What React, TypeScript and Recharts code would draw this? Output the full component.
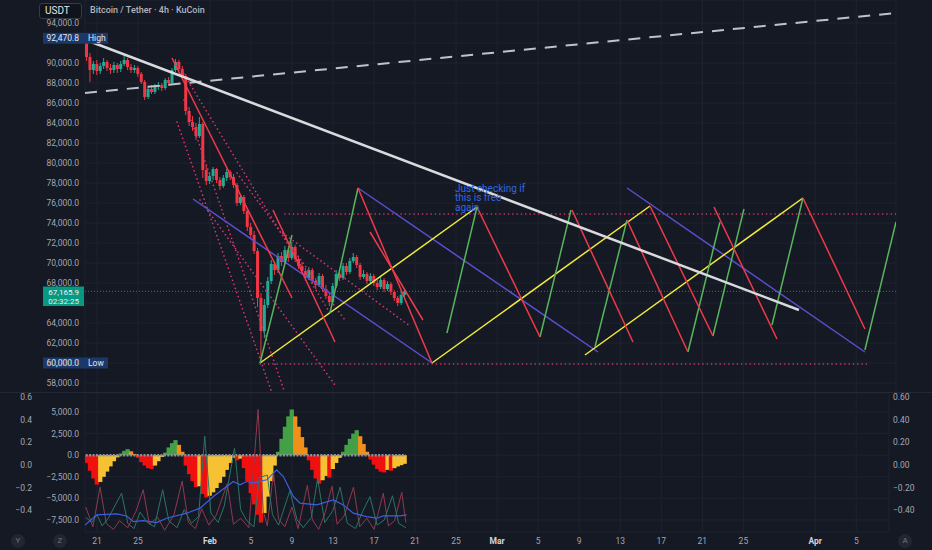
import React from 'react';
import {
  ComposedChart,
  Bar,
  Line,
  XAxis,
  YAxis,
  CartesianGrid,
  ReferenceLine,
  ReferenceDot,
} from 'recharts';

const FONT = 'Roboto, "Noto Sans", "DejaVu Sans", sans-serif';
const BG = '#151924';
const GRID = '#1e2330';
const AXIS_TEXT = '#a3a7b0';
const UP = '#22ab94';
const DOWN = '#f23645';

// ---------- axes ----------
const dateTicks = [21, 25, 32, 36, 40, 44, 48, 52, 56, 60, 64, 68, 72, 76, 80, 84, 91, 95];
const dateLabels = ['21', '25', 'Feb', '5', '9', '13', '17', '21', '25', 'Mar', '5', '9', '13', '17', '21', '25', 'Apr', '5'];
const priceTicks = [58000, 60000, 62000, 64000, 66000, 68000, 70000, 72000, 74000, 76000, 78000, 80000, 82000, 84000, 86000, 88000, 90000, 92000, 94000];
const coveredPriceTicks = [92000, 66000];
const oscTicks = [-0.4, -0.2, 0, 0.2, 0.4, 0.6];
const histTicks = [-7500, -5000, -2500, 0, 2500, 5000];

const HIGH_PRICE = 92470.8;
const LOW_PRICE = 60000.0;
const LAST_PRICE = 67165.9;
const COUNTDOWN = '02:32:25';

// ---------- candles (8h steps, day-of-year) ----------
const CANDLE_START = 20;
const CANDLE_STEP = 1 / 3;
const opens = [92300, 90600, 89300, 89900, 89200, 89700, 90100, 89500, 89300, 89800,
  89400, 89900, 90300, 89600, 89300, 89500, 88900, 88100, 86600, 87400,
  87100, 87600, 87800, 87500, 88300, 88000, 89300, 90100, 89400, 88700,
  85200, 84100, 83600, 82700, 83900, 79300, 78200, 78700, 79400, 78300,
  77700, 78500, 79100, 78600, 77800, 76000, 76600, 75200, 73600, 72800,
  71200, 66500, 63200, 65800, 68200, 69900, 69300, 70700, 70100, 71300,
  70500, 71600, 70400, 69700, 69200, 68500, 69300, 68200, 67800, 68700,
  67400, 66700, 66100, 67700, 68900, 68500, 69700, 69100, 70200, 70600,
  69800, 68600, 68900, 68200, 68700, 68000, 67600, 68300, 67400, 67900,
  67100, 66500, 66000, 66800];
const highs = [92470, 91000, 90200, 90300, 90000, 90500, 90300, 89900, 90100, 90000,
  90200, 90800, 90500, 89900, 89800, 89700, 89100, 88300, 87700, 87800,
  87900, 88100, 88000, 88500, 88600, 89500, 90400, 90300, 89700, 88900,
  85600, 84700, 84000, 84600, 84100, 79800, 79100, 79600, 79500, 78600,
  78800, 79400, 79300, 78900, 78000, 76900, 76800, 75500, 74000, 73200,
  71500, 67000, 66400, 68600, 70300, 70200, 71000, 71100, 71700, 71500,
  72100, 71800, 70700, 70100, 69500, 69600, 69500, 68500, 69000, 68900,
  67800, 67000, 68000, 69300, 69200, 70000, 70000, 70500, 71000, 70800,
  70000, 69300, 69100, 69000, 68900, 68300, 68600, 68500, 68200, 68100,
  67300, 66700, 67100, 67400];
const lows = [90200, 88100, 88900, 88800, 88900, 89400, 89200, 88900, 89000, 89000,
  89100, 89700, 89300, 89000, 89000, 88600, 87900, 86300, 86400, 86900,
  86900, 87300, 87200, 87300, 87700, 87900, 89100, 89200, 88400, 84800,
  83700, 83200, 82300, 82500, 78500, 77800, 77900, 78300, 78000, 77300,
  77500, 78200, 78300, 77500, 75700, 75800, 74900, 73200, 72400, 70900,
  65600, 60074, 62500, 65500, 67900, 68800, 69000, 69700, 69900, 70100,
  70300, 70100, 69400, 68900, 68200, 68300, 67900, 67400, 67600, 67100,
  66400, 65700, 65900, 67500, 68200, 68300, 68800, 68900, 70000, 69500,
  68300, 68400, 67900, 68000, 67700, 67300, 67400, 67100, 67200, 66800,
  66200, 65700, 65800, 66600];
const closes = [90600, 89300, 89900, 89200, 89700, 90100, 89500, 89300, 89800, 89400,
  89900, 90300, 89600, 89300, 89500, 88900, 88100, 86600, 87400, 87100,
  87600, 87800, 87500, 88300, 88000, 89300, 90100, 89400, 88700, 85200,
  84100, 83600, 82700, 83900, 79300, 78200, 78700, 79400, 78300, 77700,
  78500, 79100, 78600, 77800, 76000, 76600, 75200, 73600, 72800, 71200,
  66500, 63200, 65800, 68200, 69900, 69300, 70700, 70100, 71300, 70500,
  71600, 70400, 69700, 69200, 68500, 69300, 68200, 67800, 68700, 67400,
  66700, 66100, 67700, 68900, 68500, 69700, 69100, 70200, 70600, 69800,
  68600, 68900, 68200, 68700, 68000, 67600, 68300, 67400, 67900, 67100,
  66500, 66000, 66800, 67166];

// ---------- lower pane ----------
const histValues = [-900, -1800, -2700, -3400, -3100, -2500, -1900, -1300, -700, -250,
  200, 500, 700, 450, 150, -300, -800, -1200, -1500, -1600,
  -1200, -700, -200, 300, 900, 1400, 1750, 1200, 400, -1200,
  -2200, -3000, -3700, -3600, -4500, -4900, -4700, -4300, -3800, -3200,
  -2500, -1700, -900, -300, -600, -400, -1500, -3000, -4400, -5700,
  -6900, -7800, -6700, -4800, -3000, -1200, 400, 1900, 3300, 4500,
  5300, 4500, 3300, 2100, 900, -600, -1700, -2700, -3300, -2900,
  -2400, -2600, -1600, -900, -300, 400, 1200, 1900, 2500, 2900,
  2200, 1300, 400, -500, -1100, -1600, -1900, -2000, -1700, -1800,
  -1500, -1300, -1150, -1000];

const bluePoints = [[19.83, -8080], [20.97, -6920], [22.92, -6800], [23.89, -7040], [24.54, -7700], [25.51, -7580],
  [26.81, -7810], [27.79, -7310], [29.74, -6720], [31.04, -6140], [32.34, -4790], [33.64, -3630], [34.29, -3050],
  [34.94, -3430], [35.59, -3050], [36.24, -3230], [37.54, -2850], [38.51, -1690], [39.16, -2470], [40.14, -4790],
  [40.79, -5560], [42.41, -5760], [44.03, -5180], [45.01, -5760], [45.98, -6720], [47.28, -7120], [48.26, -7300],
  [48.9, -7040], [50.53, -7040], [51.18, -6920]];

const oscRedPoints = [[19.9, -6000], [20.6, -8300], [21.3, -3700], [21.9, -7900], [22.6, -8600], [23.2, -7600],
  [24.0, -8400], [24.8, -6500], [25.5, -4000], [26.1, -8000], [26.9, -7200], [27.6, -8700], [28.5, -6900],
  [29.3, -3000], [29.9, -7800], [30.6, -8500], [31.2, -6200], [31.9, -8100], [32.6, -7000], [33.7, -3300],
  [34.3, -8000], [35.0, -7300], [35.8, -8400], [36.7, 5300], [37.2, -6500], [37.6, -8200], [38.2, -2000],
  [38.7, -7400], [39.3, -8300], [40.0, -6000], [40.6, -8500], [41.5, -3500], [42.0, -7500], [42.6, -8600],
  [43.2, -6800], [43.9, -3600], [44.4, -8000], [45.1, -7000], [46.0, -3700], [46.6, -8300], [47.3, -7300],
  [48.0, -8600], [48.9, -4400], [49.4, -8200], [50.0, -7600], [50.7, -4300], [51.1, -7800]];

const oscGreenPoints = [[19.9, -7200], [20.5, -7800], [21.0, -6900], [21.5, -8200], [22.1, -7300], [23.4, -4400],
  [24.0, -7900], [24.6, -8500], [25.2, -6600], [25.9, -7800], [26.6, -8300], [27.4, -4000], [28.0, -7600],
  [28.8, -8400], [29.5, -6300], [30.2, -7900], [30.9, -7100], [31.5, 2200], [32.1, -6700], [32.8, -7800],
  [33.4, -5900], [34.4, 800], [35.0, -6300], [35.6, -7600], [36.3, -8300], [36.8, -2600], [37.6, -2300],
  [38.1, -6900], [38.7, -8100], [39.8, -4100], [40.5, -7500], [41.1, -8400], [41.9, -7200], [42.5, -2700],
  [43.2, -7800], [44.0, -6400], [44.7, -3700], [45.4, -7900], [46.2, -8500], [46.9, -6500], [47.6, -4800],
  [48.3, -8100], [49.0, -7500], [49.8, -4700], [50.4, -7900], [51.1, -8400]];

// ---------- drawings: [day1, price1, day2, price2] ----------
const whiteTrend = [19.93, 92300, 89.42, 65300];
const dashedTrend = [19.83, 87000, 98.88, 95000];
const pinkLevels = [[39.32, 74900, 98.88, 74900], [36.89, 59900, 96.15, 59900]];
const yellowLegs = [[36.89, 60000, 58.04, 75600], [53.65, 60000, 74.9, 75700], [68.56, 60800, 89.81, 76500]];
const greenLegs = [[36.89, 60000, 40.01, 72800], [43.71, 65000, 46.44, 77500], [55.11, 63000, 58.04, 75600],
  [64.18, 62600, 67.2, 75300], [69.54, 61600, 72.66, 74300], [78.6, 61100, 81.72, 74100],
  [81.04, 62700, 84.06, 75400], [86.79, 63800, 89.81, 76500], [95.85, 61300, 98.88, 74100]];
const redLegs = [[28.31, 90500, 40.01, 66500], [38.15, 75300, 44.2, 62100], [46.44, 77500, 53.65, 60000],
  [47.61, 73100, 52.77, 64300], [58.04, 75600, 64.18, 62600], [67.3, 75300, 73.24, 62100],
  [72.66, 74300, 78.6, 61100], [74.9, 75700, 81.04, 62700], [81.14, 75600, 87.28, 62400],
  [89.81, 76500, 95.85, 63400]];
const purpleLegs = [[30.36, 76400, 53.65, 60000], [46.44, 77500, 69.83, 61100], [72.66, 77500, 95.85, 61100]];
const dottedLegs = [[28.8, 84100, 38.06, 57000], [29.48, 86300, 39.32, 57000], [31.04, 76300, 44.2, 57800],
  [34.65, 79000, 45.17, 64300], [28.8, 90000, 43.71, 65000], [39.1, 73000, 51.5, 63700]];

const NOTE_AT = [55.89, 78000];
const NOTE_LINES = ['Just checking if', 'this is free', 'again'];

// ---------- derived tables ----------
const candles = closes.map((c, i) => ({
  t: CANDLE_START + i * CANDLE_STEP,
  open: opens[i],
  high: highs[i],
  low: lows[i],
  close: c,
}));
const histData = histValues.map((v, i) => ({ t: CANDLE_START + i * CANDLE_STEP, hist: v }));
const toPts = (arr: number[][]) => arr.map(([t, v]) => ({ t, v }));
const blueData = toPts(bluePoints);
const oscRedData = toPts(oscRedPoints);
const oscGreenData = toPts(oscGreenPoints);

const H_GREEN = '#43a047';
const H_ORANGE = '#f0901c';
const H_RED = '#f01010';
const H_YELLOW = '#f6c233';
const histColors = histValues.map((v, i) => {
  const prev = i > 0 ? histValues[i - 1] : 0;
  const rising = v > prev;
  if (v >= 0) return rising ? H_GREEN : H_ORANGE;
  return rising ? H_YELLOW : H_RED;
});

const minus = (s: string) => s.replace('-', '\u2212');
const fmtPrice = (v: number) =>
  minus(v.toLocaleString('en-US', { minimumFractionDigits: 1, maximumFractionDigits: 1 }));

const tickStyle = { fill: AXIS_TEXT, fontSize: 8.5, fontFamily: FONT };

// ---------- shapes ----------
const Candle = (props: any) => {
  const { x, y, width, height, payload } = props;
  if (!payload || x == null) return null;
  const top = Math.min(y, y + height);
  const h = Math.abs(height);
  const span = payload.high - payload.low || 1;
  const yOf = (v: number) => top + ((payload.high - v) / span) * h;
  const up = payload.close >= payload.open;
  const color = up ? UP : DOWN;
  const cx = x + width / 2;
  const b1 = yOf(Math.max(payload.open, payload.close));
  const b2 = yOf(Math.min(payload.open, payload.close));
  return (
    <g>
      <line x1={cx} x2={cx} y1={top} y2={top + h} stroke={color} strokeWidth={1} />
      <rect x={cx - width / 2} y={b1} width={width} height={Math.max(1, b2 - b1)} fill={color} />
    </g>
  );
};

const HistBar = (props: any) => {
  const { x, y, width, height, index } = props;
  if (x == null || y == null) return null;
  const top = Math.min(y, y + height);
  const h = Math.abs(height);
  return <rect x={x - 0.6} y={top} width={width + 1.2} height={h} fill={histColors[index] || H_RED} />;
};

const PriceTick = (props: any) => {
  const { x, y, payload } = props;
  if (coveredPriceTicks.includes(payload.value)) return null;
  return (
    <text x={x} y={y} dy="0.35em" textAnchor="end" fontSize={8.5} fontFamily={FONT} fill={AXIS_TEXT}>
      {fmtPrice(payload.value)}
    </text>
  );
};

const AxisTag = (props: any) => {
  const { viewBox, text, tag } = props;
  if (!viewBox) return null;
  const x = viewBox.x;
  const y = viewBox.y;
  return (
    <g>
      <rect x={x - 42} y={y - 5.5} width={tag ? 65 : 41} height={11} fill="#1c3868" />
      <text x={x - 6} y={y} dy="0.35em" textAnchor="end" fontSize={8.5} fontFamily={FONT} fill="#e3e6ee">
        {text}
      </text>
      {tag ? (
        <text x={x + 3} y={y} dy="0.35em" fontSize={8.5} fontFamily={FONT} fill="#e3e6ee">
          {tag}
        </text>
      ) : null}
    </g>
  );
};

const CurrentTag = (props: any) => {
  const { viewBox, text, sub } = props;
  if (!viewBox) return null;
  const x = viewBox.x;
  const y = viewBox.y;
  return (
    <g>
      <rect x={x - 42} y={y - 4.8} width={41} height={19.5} fill="#089981" />
      <text x={x - 6} y={y + 0.8} dy="0.35em" textAnchor="end" fontSize={8} fontFamily={FONT} fill="#f0f3fa">
        {text}
      </text>
      <text x={x - 6} y={y + 10} dy="0.35em" textAnchor="end" fontSize={8} fontFamily={FONT} fill="#e0f2ee">
        {sub}
      </text>
    </g>
  );
};

const NoteText = (props: any) => {
  const { viewBox, lines } = props;
  if (!viewBox) return null;
  const x = viewBox.x + (viewBox.width || 0) / 2;
  const y = viewBox.y + (viewBox.height || 0) / 2;
  return (
    <text x={x} y={y} fontSize={10} fontFamily={FONT} fill="#3368e0">
      {lines.map((l: string, i: number) => (
        <tspan key={i} x={x} y={y + 8.5 + i * 9.5}>
          {l}
        </tspan>
      ))}
    </text>
  );
};

const DateTick = (props: any) => {
  const { x, y, payload } = props;
  const idx = dateTicks.indexOf(payload.value);
  const label = idx >= 0 ? dateLabels[idx] : '';
  const bold = /[A-Za-z]/.test(label);
  return (
    <text
      x={x}
      y={y}
      dy={12}
      textAnchor="middle"
      fontSize={8.5}
      fontFamily={FONT}
      fontWeight={bold ? 700 : 400}
      fill={bold ? '#d1d4dc' : AXIS_TEXT}
    >
      {label}
    </text>
  );
};

const seg = (s: number[], key: string, stroke: string, width: number, dash?: string, cap?: string) => (
  <ReferenceLine
    key={key}
    segment={[{ x: s[0], y: s[1] }, { x: s[2], y: s[3] }]}
    stroke={stroke}
    strokeWidth={width}
    strokeDasharray={dash}
    strokeLinecap={cap as any}
    ifOverflow="hidden"
  />
);

const RoundIcon = ({ left, letter }: { left: number; letter: string }) => (
  <div
    style={{
      position: 'absolute',
      left,
      top: 534,
      width: 14,
      height: 14,
      borderRadius: 7,
      background: '#222631',
      color: '#70747f',
      fontSize: 8,
      lineHeight: '14px',
      textAlign: 'center',
      fontFamily: FONT,
    }}
  >
    {letter}
  </div>
);

const X_DOMAIN_LOWER: [number, number] = [19.83, 98.19];
const HIST_DOMAIN: [number, number] = [-8900, 7210];

export default function App() {
  return (
    <div
      style={{
        position: 'absolute',
        left: 0,
        top: 0,
        width: 932,
        height: 550,
        background: BG,
        overflow: 'hidden',
        fontFamily: FONT,
      }}
    >
      <div style={{ position: 'absolute', left: 0, top: 0 }}>
        <ComposedChart width={932} height={393} data={candles} margin={{ top: 0, right: 36, bottom: 0, left: 0 }}>
          <CartesianGrid stroke={GRID} />
          <XAxis dataKey="t" type="number" domain={[19.83, 98.88]} ticks={dateTicks} interval={0} allowDataOverflow hide />
          <YAxis
            type="number"
            domain={[57000, 96300]}
            ticks={priceTicks}
            interval={0}
            allowDataOverflow
            width={85}
            axisLine={false}
            tickLine={false}
            tickSize={4}
            tickMargin={2}
            tick={<PriceTick />}
          />
          <Bar dataKey={(d: any) => [d.low, d.high]} shape={Candle} barSize={3} isAnimationActive={false} />
          <ReferenceLine
            y={LAST_PRICE}
            stroke="#4d6a68"
            strokeDasharray="1 2"
            label={<CurrentTag text={fmtPrice(LAST_PRICE)} sub={COUNTDOWN} />}
          />
          {pinkLevels.map((s, i) => seg(s, `pl${i}`, '#d9376e', 1.6, '0.1 4.2', 'round'))}
          {dottedLegs.map((s, i) => seg(s, `dl${i}`, '#d9376e', 1.6, '0.1 4.2', 'round'))}
          {seg(dashedTrend, 'dash', '#bfc3c9', 2, '12 9')}
          {purpleLegs.map((s, i) => seg(s, `pu${i}`, '#5a4fd0', 1.5))}
          {yellowLegs.map((s, i) => seg(s, `ye${i}`, '#f2ea3c', 1.5))}
          {greenLegs.map((s, i) => seg(s, `gr${i}`, '#58b55b', 1.5))}
          {redLegs.map((s, i) => seg(s, `rd${i}`, '#f03a4a', 1.5))}
          {seg(whiteTrend, 'white', '#d9dadd', 2.5)}
          <ReferenceDot
            x={NOTE_AT[0]}
            y={NOTE_AT[1]}
            r={1}
            fill="none"
            stroke="none"
            label={<NoteText lines={NOTE_LINES} />}
          />
          <ReferenceLine y={HIGH_PRICE} stroke="none" label={<AxisTag text={fmtPrice(HIGH_PRICE)} tag="High" />} />
          <ReferenceLine y={LOW_PRICE} stroke="none" label={<AxisTag text={fmtPrice(LOW_PRICE)} tag="Low" />} />
        </ComposedChart>
      </div>

      <div style={{ position: 'absolute', left: 0, top: 392, width: 932, height: 1, background: '#242834' }} />

      {/* lower pane: histogram with axes */}
      <div style={{ position: 'absolute', left: 0, top: 393 }}>
        <ComposedChart width={932} height={157} data={histData} margin={{ top: 0, right: 0, bottom: 0, left: 0 }}>
          <CartesianGrid stroke={GRID} yAxisId="h" />
          <XAxis
            dataKey="t"
            type="number"
            domain={X_DOMAIN_LOWER}
            ticks={dateTicks}
            interval={0}
            allowDataOverflow
            height={18}
            axisLine={false}
            tickLine={false}
            tickSize={0}
            tickMargin={0}
            tick={<DateTick />}
          />
          <YAxis
            yAxisId="osc"
            orientation="left"
            width={38}
            domain={[-0.593, 0.635]}
            ticks={oscTicks}
            interval={0}
            allowDataOverflow
            axisLine={false}
            tickLine={false}
            tickSize={4}
            tickMargin={2}
            tick={tickStyle}
            tickFormatter={(v: number) => minus(v.toFixed(1))}
          />
          <YAxis
            yAxisId="h"
            orientation="left"
            width={47}
            domain={HIST_DOMAIN}
            ticks={histTicks}
            interval={0}
            allowDataOverflow
            axisLine={false}
            tickLine={false}
            tickSize={4}
            tickMargin={2}
            tick={tickStyle}
            tickFormatter={fmtPrice}
          />
          <YAxis
            yAxisId="r"
            orientation="right"
            width={43}
            domain={[-0.593, 0.635]}
            ticks={oscTicks}
            interval={0}
            allowDataOverflow
            axisLine={false}
            tickLine={false}
            tickSize={2}
            tickMargin={2}
            tick={tickStyle}
            tickFormatter={(v: number) => minus(v.toFixed(2))}
          />
          <Bar yAxisId="h" dataKey="hist" barSize={4} shape={HistBar} isAnimationActive={false} />
          <ReferenceLine
            yAxisId="h"
            segment={[{ x: 19.9, y: 0 }, { x: 51.1, y: 0 }]}
            stroke="#8d929b"
            strokeWidth={2.5}
            strokeDasharray="2 1.4"
            ifOverflow="hidden"
          />
        </ComposedChart>
      </div>

      {/* lower pane: oscillator lines, same plot rectangle */}
      <div style={{ position: 'absolute', left: 0, top: 393, pointerEvents: 'none' }}>
        <ComposedChart width={932} height={157} margin={{ top: 0, right: 43, bottom: 18, left: 85 }}>
          <XAxis dataKey="t" type="number" domain={X_DOMAIN_LOWER} allowDataOverflow hide />
          <YAxis yAxisId="h" domain={HIST_DOMAIN} allowDataOverflow hide />
          <Line yAxisId="h" data={oscRedData} dataKey="v" type="linear" stroke="#8e3a4e" strokeWidth={1} dot={false} isAnimationActive={false} />
          <Line yAxisId="h" data={oscGreenData} dataKey="v" type="linear" stroke="#2b7466" strokeWidth={1} dot={false} isAnimationActive={false} />
          <Line yAxisId="h" data={blueData} dataKey="v" type="linear" stroke="#3b5fe0" strokeWidth={1.2} dot={false} isAnimationActive={false} />
        </ComposedChart>
      </div>

      <div
        style={{
          position: 'absolute',
          left: 39,
          top: 3,
          width: 43,
          height: 16,
          boxSizing: 'border-box',
          border: '1px solid #363a45',
          borderRadius: 3,
          background: '#10131b',
          color: '#e3e6ee',
          fontSize: 10,
          lineHeight: '14px',
          paddingLeft: 5,
        }}
      >
        USDT
      </div>
      <div
        style={{
          position: 'absolute',
          left: 90,
          top: 4,
          fontSize: 9,
          lineHeight: '12px',
          fontWeight: 500,
          color: '#b2b5be',
          whiteSpace: 'nowrap',
        }}
      >
        Bitcoin / Tether · 4h · KuCoin
      </div>
      <RoundIcon left={11} letter="Y" />
      <RoundIcon left={53} letter="Z" />
      <RoundIcon left={898} letter="A" />
    </div>
  );
}
